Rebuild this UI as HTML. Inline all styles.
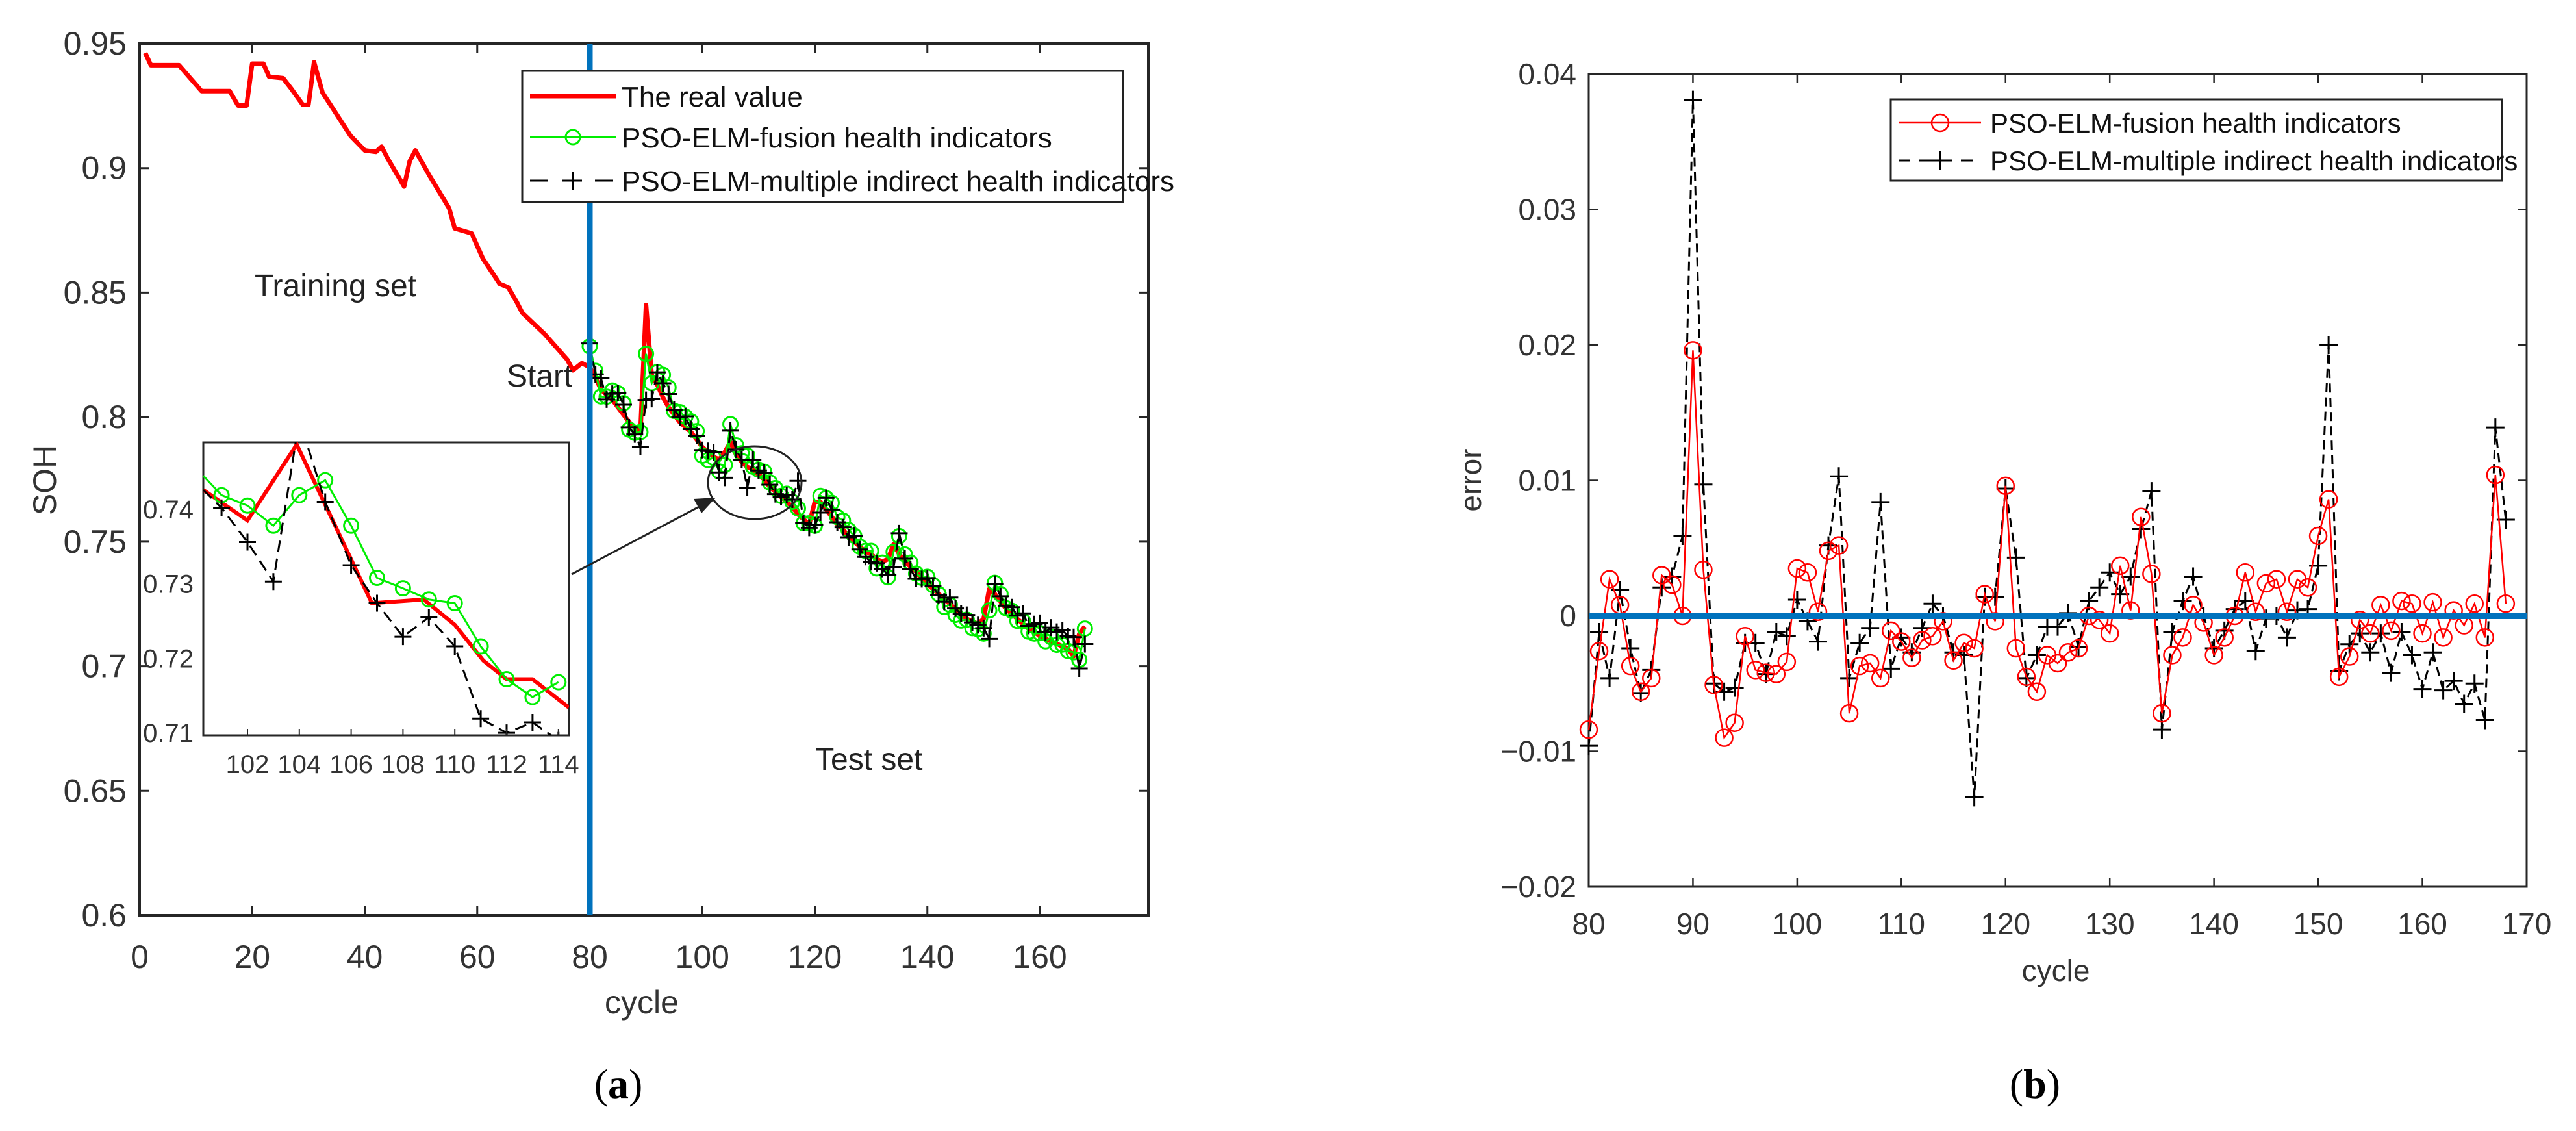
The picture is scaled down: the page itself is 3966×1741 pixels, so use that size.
<!DOCTYPE html>
<html><head><meta charset="utf-8">
<style>
html,body{margin:0;padding:0;background:#fff;}
svg{display:block;font-family:"Liberation Sans",sans-serif;}
</style></head>
<body>
<svg id="fig" width="3966" height="1741" viewBox="0 0 3966 1741" xmlns="http://www.w3.org/2000/svg"></svg>
<script>
// ---------- data ----------
const trainCycles=[1,2,7,9,11,16,17.5,19,20,22,23,25.5,27,29,30,31,32.5,36,37.5,40,42,43,44,47,48,49,51.5,55,56,59,61,64,65.5,67,68,72,76,77,78.6,80];
const trainSOH=[.9462,.9413,.9413,.9361,.9309,.9309,.9251,.9251,.9419,.9419,.9367,.9361,.9317,.9254,.9254,.9425,.9303,.9181,.9129,.9071,.9065,.9086,.9042,.8926,.9028,.9071,.8970,.8839,.8758,.8738,.8637,.8535,.8521,.8463,.8419,.8333,.8231,.8188,.8217,.8200];
const testStart=80;
const testReal=[.820,.816,.811,.809,.807,.804,.801,.798,.796,.794,.845,.817,.813,.808,.804,.801,.798,.796,.794,.791,.788,.786,.784,.783,.786,.790,.785,.782,.780,.779,.777,.775,.772,.770,.768,.766,.764,.761,.759,.757,.766,.766,.763,.760,.757,.755,.752,.750,.748,.746,.745,.743,.742,.743,.749,.745,.742,.740,.738,.735,.733,.731,.729,.727,.725,.723,.721,.719,.718,.717,.719,.731,.729,.726,.723,.721,.719,.717,.715,.714,.712,.711,.710,.709,.708,.707,.704,.713,.716];
const errFusion=[-.0084,-.0026,.0027,.0008,-.0037,-.0056,-.0046,.0030,.0023,.0000,.0196,.0034,-.0051,-.0090,-.0079,-.0015,-.0040,-.0042,-.0043,-.0034,.0035,.0032,.0003,.0048,.0052,-.0072,-.0037,-.0035,-.0046,-.0011,-.0019,-.0031,-.0018,-.0015,-.0004,-.0033,-.0020,-.0024,.0016,-.0004,.0096,-.0024,-.0045,-.0056,-.0029,-.0035,-.0027,-.0024,.0000,-.0003,-.0013,.0037,.0004,.0073,.0031,-.0072,-.0029,-.0016,.0008,-.0005,-.0029,-.0016,.0000,.0032,.0003,.0024,.0027,.0003,.0027,.0021,.0059,.0086,-.0045,-.0030,-.0003,-.0013,.0008,-.0011,.0011,.0009,-.0013,.0010,-.0016,.0004,-.0007,.0009,-.0016,.0104,.0009];
const errMulti=[-.0096,-.0012,-.0046,.0019,-.0024,-.0057,-.0040,.0021,.0029,.0059,.0381,.0097,-.0050,-.0056,-.0053,-.0020,-.0020,-.0043,-.0012,-.0015,.0012,-.0004,-.0019,.0052,.0103,-.0046,-.0020,-.0009,.0084,-.0039,-.0016,-.0027,-.0009,.0009,.0000,-.0027,-.0029,-.0134,.0014,.0014,.0094,.0043,-.0046,-.0029,-.0008,-.0008,.0002,-.0023,.0011,.0021,.0032,.0016,.0029,.0064,.0092,-.0084,-.0012,.0011,.0029,.0000,-.0024,-.0011,.0005,.0011,-.0026,-.0002,.0000,-.0016,.0004,.0005,.0037,.0200,-.0041,-.0021,-.0013,-.0027,-.0013,-.0042,-.0012,-.0029,-.0054,-.0027,-.0055,-.0048,-.0065,-.0050,-.0077,.0139,.0071];
const insetRealX=[100.3,102,103.9,106.8,108.8,110,111.1,112,113,114.4];
const insetRealY=[.7426,.7385,.7487,.7274,.7279,.7245,.7197,.7172,.7172,.7134];
const insetCyc=[101,102,103,104,105,106,107,108,109,110,111,112,113,114];
const insetFusion=[.7419,.7405,.7378,.7419,.7439,.7378,.7308,.7294,.7279,.7274,.7216,.7172,.7148,.7168];
const insetMulti=[.7402,.7356,.7303,.7520,.7410,.7325,.7274,.7229,.7255,.7216,.7119,.7100,.7114,.7090];
const aXTicks=[0,20,40,60,80,100,120,140,160];
const aYTicks=[0.6,0.65,0.7,0.75,0.8,0.85,0.9,0.95];
const aYLabels=["0.6","0.65","0.7","0.75","0.8","0.85","0.9","0.95"];
const insetXTicks=[102,104,106,108,110,112,114];
const insetYTicks=[0.71,0.72,0.73,0.74];
const bXTicks=[80,90,100,110,120,130,140,150,160,170];
const bYTicks=[-0.02,-0.01,0,0.01,0.02,0.03,0.04];
const bYLabels=["\u22120.02","\u22120.01","0","0.01","0.02","0.03","0.04"];

// ---------- helpers ----------
const NS="http://www.w3.org/2000/svg";
const svg=document.getElementById('fig');
function mk(tag,attrs,parent){const e=document.createElementNS(NS,tag);for(const k in attrs)e.setAttribute(k,attrs[k]);(parent||svg).appendChild(e);return e;}
function txt(s,attrs,parent){const e=mk('text',attrs,parent);e.textContent=s;return e;}
function plus(g,x,y,s,w){return mk('path',{d:`M${x-s} ${y}H${x+s}M${x} ${y-s}V${y+s}`,stroke:'#000','stroke-width':w,fill:'none'},g);}
const cyc=i=>testStart+i;

// ---------- plot A ----------
const AX0=215,AX1=1768,AY0=67,AY1=1409;
const ax=c=>AX0+c*8.6625;
const ay=v=>AY1-(v-0.6)/0.35*(AY1-AY0);
const gA=mk('g',{});


mk('rect',{x:AX0,y:AY0,width:AX1-AX0,height:AY1-AY0,fill:'#fff',stroke:'#262626','stroke-width':4},gA);
aXTicks.forEach(t=>{const x=ax(t);
 mk('path',{d:`M${x} ${AY1}v-14M${x} ${AY0}v14`,stroke:'#262626','stroke-width':3},gA);
 const l=txt(String(t),{x:x,y:1490,'font-size':50,'text-anchor':'middle',fill:'#333'},gA);
 });
aYTicks.forEach((t,i)=>{const y=ay(t);
 mk('path',{d:`M${AX0} ${y}h14M${AX1} ${y}h-14`,stroke:'#262626','stroke-width':3},gA);
 const l=txt(aYLabels[i],{x:195,y:y+17,'font-size':50,'text-anchor':'end',fill:'#333'},gA);
 });
// train + test real
let dReal='';
trainCycles.forEach((c,i)=>{dReal+=(i?'L':'M')+ax(c)+' '+ay(trainSOH[i]);});
testReal.forEach((v,i)=>{dReal+='L'+ax(cyc(i))+' '+ay(v);});
const realLine=mk('path',{d:dReal,fill:'none',stroke:'#ff0000','stroke-width':7,'stroke-linejoin':'round'},gA);

// fusion pred
let dF='';testReal.forEach((v,i)=>{dF+=(i?'L':'M')+ax(cyc(i))+' '+ay(v-errFusion[i]);});
mk('path',{d:dF,fill:'none',stroke:'#00ee00','stroke-width':3},gA);
testReal.forEach((v,i)=>{const c=mk('circle',{cx:ax(cyc(i)),cy:ay(v-errFusion[i]),r:11,fill:'none',stroke:'#00ee00','stroke-width':3},gA);
 });
let dM='';testReal.forEach((v,i)=>{dM+=(i?'L':'M')+ax(cyc(i))+' '+ay(v-errMulti[i]);});
mk('path',{d:dM,fill:'none',stroke:'#000','stroke-width':3,'stroke-dasharray':'18 10'},gA);
testReal.forEach((v,i)=>{const p=plus(gA,ax(cyc(i)),ay(v-errMulti[i]),13,3);
 });
// blue divider
const div=mk('line',{x1:ax(80),x2:ax(80),y1:AY0,y2:AY1,stroke:'#0072BD','stroke-width':9},gA);

// annotations
txt('Training set',{x:392,y:456,'font-size':48,fill:'#222'},gA);
txt('Start',{x:780,y:595,'font-size':48,fill:'#222'},gA);
txt('Test set',{x:1255,y:1185,'font-size':48,fill:'#222'},gA);
mk('ellipse',{cx:1162,cy:743,rx:72,ry:56,fill:'none',stroke:'#222','stroke-width':3},gA);
mk('line',{x1:880,y1:884,x2:1080,y2:778,stroke:'#222','stroke-width':3},gA);
mk('path',{d:'M1102 766 L1068 768 L1080 790 Z',fill:'#222'},gA);
// inset
const IX0=313,IX1=876,IY0=681,IY1=1132;
const ix=c=>381+(c-102)*39.9;
const iy=v=>784+(0.74-v)*11470;
const gI=mk('g',{},gA);


mk('rect',{x:IX0,y:IY0,width:IX1-IX0,height:IY1-IY0,fill:'#fff',stroke:'#262626','stroke-width':3},gI);
mk('clipPath',{id:'ic'},gI);
mk('rect',{x:IX0,y:IY0,width:IX1-IX0,height:IY1-IY0},document.getElementById('ic'));
const gIc=mk('g',{'clip-path':'url(#ic)'},gI);
let dIR='';insetRealX.forEach((c,i)=>{dIR+=(i?'L':'M')+ix(c)+' '+iy(insetRealY[i]);});
mk('path',{d:dIR,fill:'none',stroke:'#ff0000','stroke-width':6},gIc);
let dIF='M'+IX0+' '+iy(0.7445);insetCyc.forEach((c,i)=>{dIF+='L'+ix(c)+' '+iy(insetFusion[i]);});
mk('path',{d:dIF,fill:'none',stroke:'#00ee00','stroke-width':3},gIc);
insetCyc.forEach((c,i)=>{mk('circle',{cx:ix(c),cy:iy(insetFusion[i]),r:11,fill:'none',stroke:'#00ee00','stroke-width':3},gIc);});
let dIM='M'+IX0+' '+iy(0.7426);insetCyc.forEach((c,i)=>{dIM+='L'+ix(c)+' '+iy(insetMulti[i]);});
mk('path',{d:dIM,fill:'none',stroke:'#000','stroke-width':3,'stroke-dasharray':'18 10'},gIc);
insetCyc.forEach((c,i)=>{plus(gIc,ix(c),iy(insetMulti[i]),13,3);});
insetXTicks.forEach(t=>{txt(String(t),{x:ix(t),y:1190,'font-size':40,'text-anchor':'middle',fill:'#333'},gI);
 mk('path',{d:`M${ix(t)} ${IY1}v-10`,stroke:'#262626','stroke-width':2},gI);});
insetYTicks.forEach(t=>{txt(String(t),{x:298,y:iy(t)+14,'font-size':40,'text-anchor':'end',fill:'#333'},gI);});
// legend A
const gLA=mk('g',{},gA);


mk('rect',{x:804,y:109,width:925,height:202,fill:'#fff',stroke:'#222','stroke-width':3},gLA);
mk('line',{x1:816,x2:949,y1:148,y2:148,stroke:'#ff0000','stroke-width':7},gLA);
txt('The real value',{x:957,y:164,'font-size':44,fill:'#111'},gLA);
mk('line',{x1:816,x2:949,y1:211,y2:211,stroke:'#00ee00','stroke-width':3},gLA);
mk('circle',{cx:882,cy:211,r:11,fill:'none',stroke:'#00ee00','stroke-width':3},gLA);
txt('PSO-ELM-fusion health indicators',{x:957,y:227,'font-size':44,fill:'#111'},gLA);
mk('line',{x1:816,x2:949,y1:278,y2:278,stroke:'#000','stroke-width':3,'stroke-dasharray':'28 22'},gLA);
plus(gLA,882,278,14,3);
txt('PSO-ELM-multiple indirect health indicators',{x:957,y:294,'font-size':44,fill:'#111'},gLA);
txt('SOH',{x:0,y:0,'font-size':50,'text-anchor':'middle',fill:'#333',transform:'translate(86,739) rotate(-90)'},gA);
txt('cycle',{x:988,y:1560,'font-size':50,'text-anchor':'middle',fill:'#333'},gA);
const capA=txt('(',{x:952,y:1690,'font-size':64,'text-anchor':'middle','font-family':'Liberation Serif, serif',fill:'#000'},gA);
capA.textContent='';const a1=mk('tspan',{},capA);a1.textContent='(';const a2=mk('tspan',{'font-weight':'bold'},capA);a2.textContent='a';const a3=mk('tspan',{},capA);a3.textContent=')';


// ---------- plot B ----------
const BX0=2446,BX1=3890,BY0=114,BY1=1365;
const bx=c=>BX0+(c-80)*16.044;
const by=v=>BY1-(v+0.02)/0.06*(BY1-BY0);
const gB=mk('g',{});


mk('rect',{x:BX0,y:BY0,width:BX1-BX0,height:BY1-BY0,fill:'#fff',stroke:'#262626','stroke-width':3},gB);
bXTicks.forEach(t=>{const x=bx(t);
 mk('path',{d:`M${x} ${BY1}v-14M${x} ${BY0}v14`,stroke:'#262626','stroke-width':2.5},gB);
 txt(String(t),{x:x,y:1438,'font-size':46,'text-anchor':'middle',fill:'#333'},gB);});
bYTicks.forEach((t,i)=>{const y=by(t);
 mk('path',{d:`M${BX0} ${y}h14M${BX1} ${y}h-14`,stroke:'#262626','stroke-width':2.5},gB);
 txt(bYLabels[i],{x:2427,y:y+16,'font-size':46,'text-anchor':'end',fill:'#333'},gB);});
let dBM='';errMulti.forEach((v,i)=>{dBM+=(i?'L':'M')+bx(cyc(i))+' '+by(v);});
mk('path',{d:dBM,fill:'none',stroke:'#000','stroke-width':3,'stroke-dasharray':'14 8'},gB);
errMulti.forEach((v,i)=>{plus(gB,bx(cyc(i)),by(v),14,3);});
let dBF='';errFusion.forEach((v,i)=>{dBF+=(i?'L':'M')+bx(cyc(i))+' '+by(v);});
mk('path',{d:dBF,fill:'none',stroke:'#ff0000','stroke-width':2.5},gB);
errFusion.forEach((v,i)=>{mk('circle',{cx:bx(cyc(i)),cy:by(v),r:13,fill:'none',stroke:'#ff0000','stroke-width':2.5},gB);});
mk('line',{x1:BX0,x2:BX1,y1:by(0),y2:by(0),stroke:'#0072BD','stroke-width':10},gB);
const gLB=mk('g',{},gB);


mk('rect',{x:2911,y:153,width:941,height:125,fill:'#fff',stroke:'#222','stroke-width':3},gLB);
mk('line',{x1:2923,x2:3050,y1:189,y2:189,stroke:'#ff0000','stroke-width':2.5},gLB);
mk('circle',{cx:2987,cy:189,r:13,fill:'none',stroke:'#ff0000','stroke-width':2.5},gLB);
txt('PSO-ELM-fusion health indicators',{x:3064,y:204,'font-size':42,fill:'#111'},gLB);
mk('line',{x1:2923,x2:3050,y1:247,y2:247,stroke:'#000','stroke-width':3,'stroke-dasharray':'18 14'},gLB);
plus(gLB,2987,247,14,3);
txt('PSO-ELM-multiple indirect health indicators',{x:3064,y:262,'font-size':42,fill:'#111'},gLB);
txt('error',{x:0,y:0,'font-size':46,'text-anchor':'middle',fill:'#333',transform:'translate(2280,739) rotate(-90)'},gB);
txt('cycle',{x:3165,y:1510,'font-size':46,'text-anchor':'middle',fill:'#333'},gB);
const capB=txt('',{x:3133,y:1690,'font-size':64,'text-anchor':'middle','font-family':'Liberation Serif, serif',fill:'#000'},gB);
const b1=mk('tspan',{},capB);b1.textContent='(';const b2=mk('tspan',{'font-weight':'bold'},capB);b2.textContent='b';const b3=mk('tspan',{},capB);b3.textContent=')';

</script>
</body></html>
